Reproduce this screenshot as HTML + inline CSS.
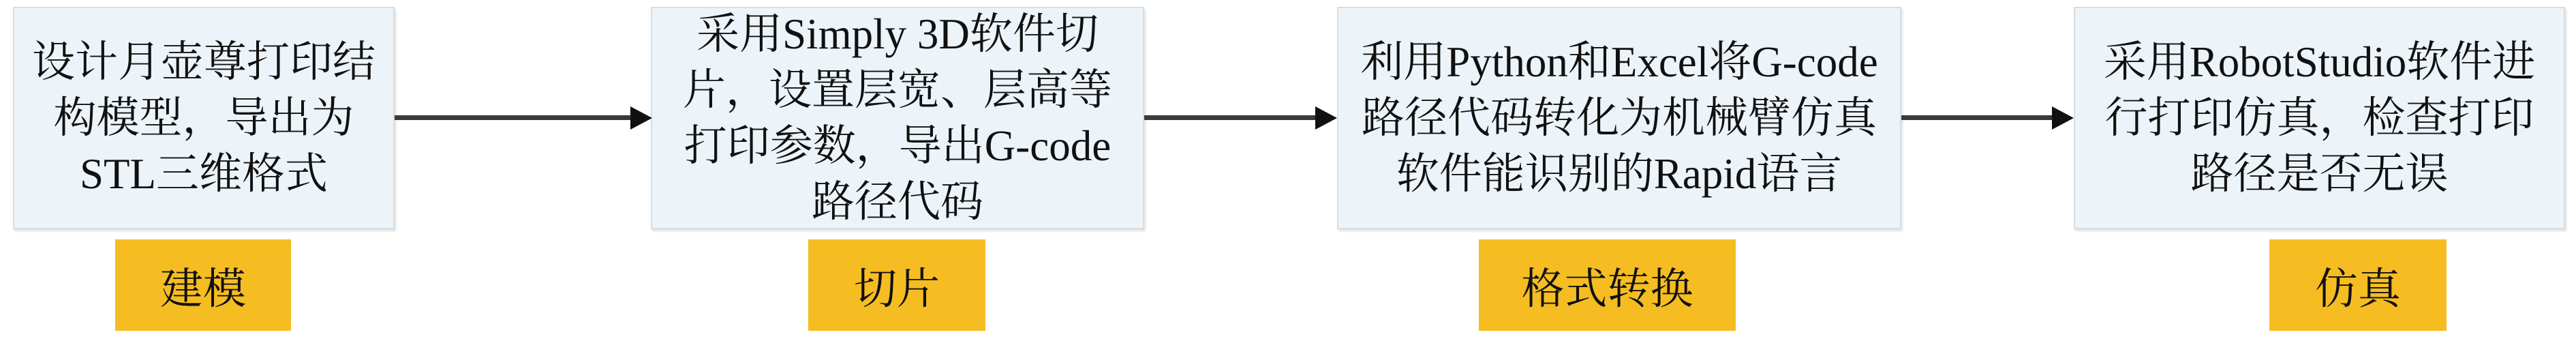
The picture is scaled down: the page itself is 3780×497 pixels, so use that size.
<!DOCTYPE html>
<html><head><meta charset="utf-8"><style>
html,body{margin:0;padding:0;background:#fff;}
body{width:3780px;height:497px;position:relative;overflow:hidden;font-family:"Liberation Serif","Noto Serif CJK SC",serif;color:#111;}
.box{position:absolute;top:10px;height:326px;background:#edf4f9;border:2px solid #d8dde2;box-shadow:2px 3px 3px rgba(0,0,0,0.12);display:flex;align-items:center;justify-content:center;text-align:center;box-sizing:border-box;}
.t{font-size:63px;line-height:82px;white-space:nowrap;}
.y{position:absolute;top:351px;height:134px;background:#f5bd22;display:flex;align-items:center;justify-content:center;font-size:63px;}
.ln{position:absolute;top:169px;height:7px;background:#3a3a3a;}
.ah{position:absolute;top:156px;width:0;height:0;border-top:17px solid transparent;border-bottom:17px solid transparent;border-left:32px solid #111;}
</style></head><body>
<div class="box" style="left:19px;width:560px"><div class="t">设计月壶尊打印结<br>构模型，导出为<br>STL三维格式</div></div>
<div class="box" style="left:955px;width:724px"><div class="t">采用Simply 3D软件切<br>片，设置层宽、层高等<br>打印参数，导出G-code<br>路径代码</div></div>
<div class="box" style="left:1962px;width:828px"><div class="t">利用Python和Excel将G-code<br>路径代码转化为机械臂仿真<br>软件能识别的Rapid语言</div></div>
<div class="box" style="left:3043px;width:721px"><div class="t">采用RobotStudio软件进<br>行打印仿真，检查打印<br>路径是否无误</div></div>

<div class="ln" style="left:579px;width:350px"></div><div class="ah" style="left:925px"></div>
<div class="ln" style="left:1679px;width:255px"></div><div class="ah" style="left:1930px"></div>
<div class="ln" style="left:2790px;width:225px"></div><div class="ah" style="left:3011px"></div>

<div class="y" style="left:169px;width:258px">建模</div>
<div class="y" style="left:1186px;width:260px">切片</div>
<div class="y" style="left:2170px;width:377px">格式转换</div>
<div class="y" style="left:3330px;width:260px">仿真</div>
</body></html>
